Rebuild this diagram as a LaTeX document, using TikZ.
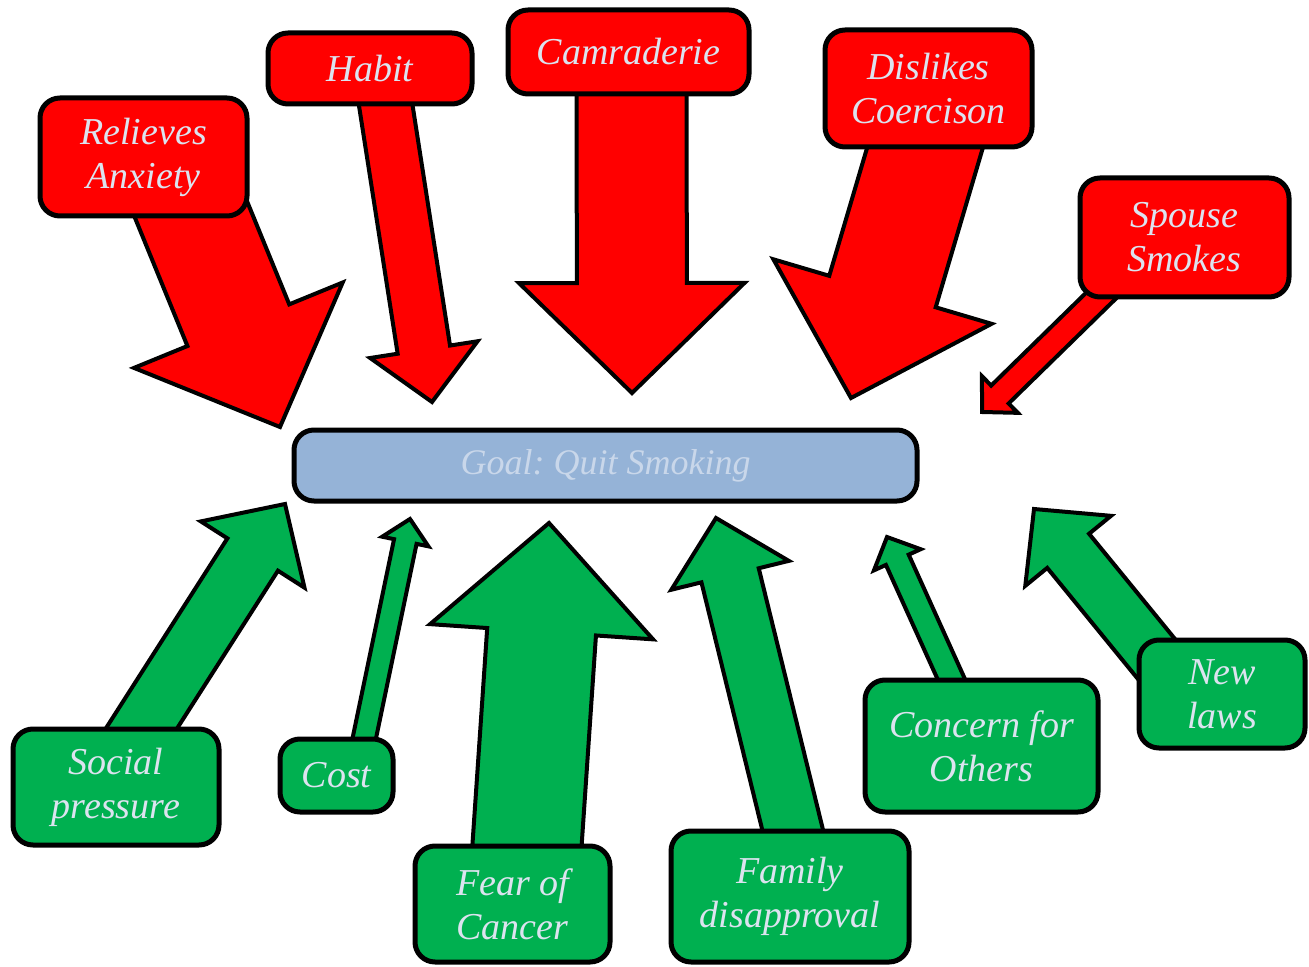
\documentclass[tikz,border=0pt]{standalone}
\usepackage{fontspec}
\setmainfont{Liberation Serif}
\usetikzlibrary{calc,backgrounds}

\definecolor{againstred}{HTML}{FF0000}
\definecolor{forgreen}{HTML}{00B050}
\definecolor{goalblue}{HTML}{95B3D7}
\definecolor{labeltext}{HTML}{DCE3EF}
\definecolor{goaltext}{HTML}{C9D7EA}

% block arrow: [style]{tail}{tip}{shaft width in px}
\newcommand{\forcearrow}[4][]{%
  \path (#2) coordinate (fa tail) (#3) coordinate (fa tip)
    ($(fa tip)!#4*0.5pt!(fa tail)$) coordinate (fa base);
  \draw[force, #1]
    ($(fa tail)!#4*0.25pt!90:(fa tip)$) --
    ($(fa base)!#4*0.25pt!90:(fa tip)$) --
    ($(fa base)!#4*0.5125pt!90:(fa tip)$) --
    (fa tip) --
    ($(fa base)!#4*0.5125pt!-90:(fa tip)$) --
    ($(fa base)!#4*0.25pt!-90:(fa tip)$) --
    ($(fa tail)!#4*0.25pt!-90:(fa tip)$) -- cycle;
}

\begin{document}
\frenchspacing
\begin{tikzpicture}[
  x=0.5pt, y=-0.5pt,
  box/.style={draw, line width=2.5pt, rounded corners=10pt, align=center, inner sep=2pt,
    text=labeltext, font=\fontsize{19}{22}\selectfont\itshape},
  against/.style={box, fill=againstred},
  pro/.style={box, fill=forgreen},
  force/.style={draw, line width=2pt, line join=miter},
  redforce/.style={force, fill=againstred},
  greenforce/.style={force, fill=forgreen}
]
\useasboundingbox (0,0) rectangle (1309,967);

% goal
\node[box, fill=goalblue, text=goaltext, font=\fontsize{18}{22}\selectfont\itshape,
  minimum width=311.5pt, minimum height=35.5pt] (goal) at (605.5,465.5) {Goal: Quit Smoking};

% restraining forces
\node[against, minimum width=103.5pt, minimum height=59pt] (anx) at (143.5,157) {Relieves\\Anxiety};
\node[against, minimum width=102pt, minimum height=35.5pt] (habit) at (370,68.5) {Habit};
\node[against, minimum width=120.5pt, minimum height=42pt] (camr) at (628.5,52) {Camraderie};
\node[against, minimum width=103.5pt, minimum height=58.5pt] (coerc) at (928.5,88.5) {Dislikes\\Coercison};
\node[against, minimum width=104.5pt, minimum height=59.5pt] (spouse) at (1184.5,237.5) {Spouse\\Smokes};

% driving forces
\node[pro, minimum width=103pt, minimum height=58pt] (social) at (116,787) {Social\\pressure};
\node[pro, minimum width=56.5pt, minimum height=36.5pt] (cost) at (336.5,775.5) {Cost};
\node[pro, minimum width=97.5pt, minimum height=58pt] (cancer) at (512.5,904) {Fear of\\Cancer};
\node[pro, minimum width=119pt, minimum height=65.5pt] (family) at (790,896.5) {Family\\disapproval};
\node[pro, minimum width=116.5pt, minimum height=66pt] (others) at (981.5,746) {Concern for\\Others};
\node[pro, minimum width=83pt, minimum height=54pt] (laws) at (1222,694) {New\\laws};

% arrow tips
\coordinate (anx tip) at (280,427);
\coordinate (habit tip) at (432,402);
\coordinate (camr tip) at (632,393);
\coordinate (coerc tip) at (851,398);
\coordinate (spouse tip) at (982,412);
\coordinate (social tip) at (285,504);
\coordinate (cost tip) at (410,519);
\coordinate (cancer tip) at (549,523);
\coordinate (family tip) at (716,518);
\coordinate (others tip) at (887,537);
\coordinate (laws tip) at (1034,509);

\begin{scope}[on background layer]
  \forcearrow[redforce]{$(anx)+(26,0)$}{anx tip}{110}
  \forcearrow[redforce]{$(habit)+(10,0)$}{habit tip}{53}
  \forcearrow[redforce]{$(camr)+(3,0)$}{camr tip}{110}
  \forcearrow[redforce]{$(coerc)+(14,0)$}{coerc tip}{111}
  \forcearrow[redforce]{$(spouse)+(-24,0)$}{spouse tip}{25}
  \forcearrow[greenforce]{$(social)+(-12,0)$}{social tip}{60}
  \forcearrow[greenforce]{$(cost)+(20,0)$}{cost tip}{23}
  \forcearrow[greenforce]{$(cancer)+(10.5,0)$}{cancer tip}{109}
  \forcearrow[greenforce]{$(family)+(19,0)$}{family tip}{59}
  \forcearrow[greenforce]{others}{others tip}{25}
  \forcearrow[greenforce]{$(laws)+(-37,0)$}{laws tip}{54}
\end{scope}

\end{tikzpicture}
\end{document}
